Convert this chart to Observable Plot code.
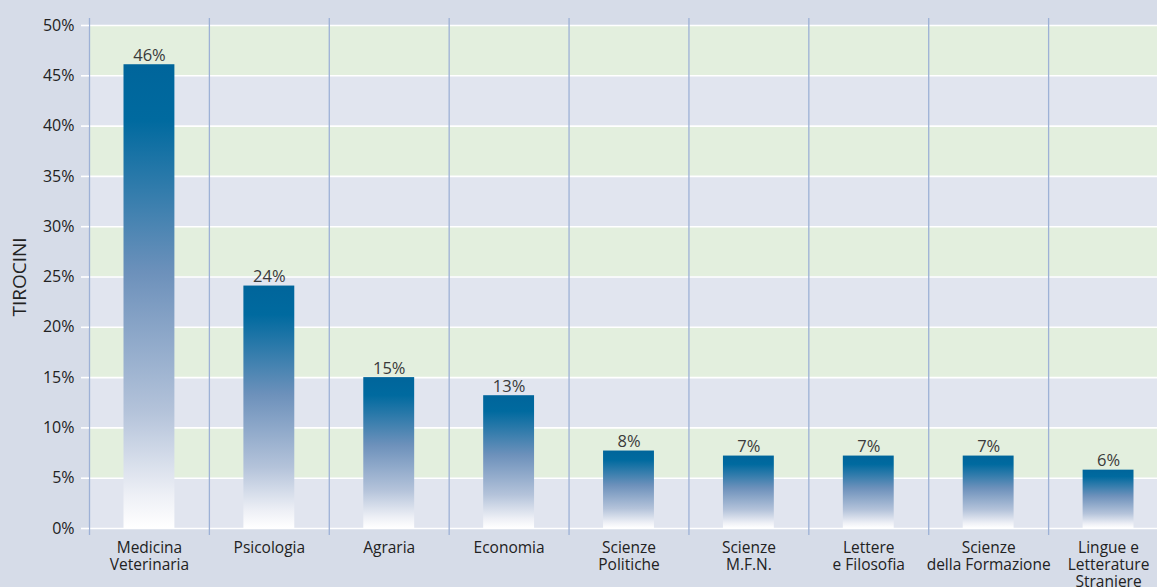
<!DOCTYPE html>
<html>
<head>
<meta charset="utf-8">
<script src="https://cdn.jsdelivr.net/npm/d3@7"></script>
<script src="https://cdn.jsdelivr.net/npm/@observablehq/plot@0.6"></script>
<style>
  html, body { margin: 0; padding: 0; background: #d6dce8; }
  #chart svg { display: block; }
</style>
</head>
<body>
<div id="chart"></div>
<script>
const categories = [
  "Medicina\nVeterinaria", "Psicologia", "Agraria", "Economia",
  "Scienze\nPolitiche", "Scienze\nM.F.N.", "Lettere\ne Filosofia",
  "Scienze\ndella Formazione", "Lingue e\nLetterature\nStraniere"
];
const values = [46.1, 24.1, 15.0, 13.2, 7.7, 7.2, 7.2, 7.2, 5.8];
const valueLabels = ["46%", "24%", "15%", "13%", "8%", "7%", "7%", "7%", "6%"];
const yTicks = [0, 5, 10, 15, 20, 25, 30, 35, 40, 45, 50];

const data = categories.map((c, i) => ({cat: c, value: values[i], label: valueLabels[i]}));
const bands = yTicks.slice(0, -1).map((t, i) => ({y1: t, y2: yTicks[i + 1], even: i % 2 === 1}));

const W = 1157, H = 587;
const xRange = [89, 1168];
const step = (xRange[1] - xRange[0]) / categories.length;
const font = "'Open Sans', 'Noto Sans', sans-serif";

const chart = Plot.plot({
  width: W,
  height: H,
  marginLeft: 89,
  marginRight: 0,
  marginTop: 25,
  marginBottom: 59,
  style: {background: "#d6dce8", fontFamily: font, color: "#222"},
  x: {domain: categories, range: xRange, padding: 0, round: false},
  y: {domain: [0, 50], ticks: yTicks},
  marks: [
    Plot.rect(bands, {y1: "y1", y2: "y2", fill: d => d.even ? "#e3efde" : "#e1e5ef"}),
    Plot.ruleY(yTicks, {stroke: "#ffffff", strokeWidth: 1.6}),
    Plot.ruleX(categories, {x: d => d, dx: -step / 2, y1: -0.7, y2: 50.7, stroke: "#9db1d6", strokeWidth: 1.3}),
    Plot.barY(data, {x: "cat", y: "value", fill: "url(#barGrad)", insetLeft: 34.5, insetRight: 34.5}),
    Plot.text(data, {x: "cat", y: "value", text: "label", lineAnchor: "bottom", dy: -4, fontSize: 16.5, fill: "#3a3a3a", fontFamily: font}),
    Plot.axisY({ticks: yTicks, tickFormat: d => d + "%", tickSize: 8, tickPadding: 7, stroke: "#ffffff", strokeWidth: 1.6, fontSize: 16, fill: "#222", label: null}),
    Plot.axisX({tickSize: 0, tickPadding: 13, fontSize: 15.5, lineHeight: 1.08, fill: "#222", label: null}),
    Plot.text(["TIROCINI"], {frameAnchor: "left", textAnchor: "middle", rotate: -90, dx: -70, fontSize: 19, fill: "#222", fontFamily: font})
  ]
});

const svg = d3.select(chart);
const defs = svg.insert("defs", ":first-child");
const grad = defs.append("linearGradient")
  .attr("id", "barGrad").attr("x1", 0).attr("y1", 0).attr("x2", 0).attr("y2", 1);
[[0, "#00659b"], [0.12, "#006a9f"], [0.45, "#6d91bb"], [0.75, "#b4c3da"], [0.93, "#eef0f6"], [1, "#ffffff"]]
  .forEach(([o, c]) => grad.append("stop").attr("offset", o).attr("stop-color", c));

document.getElementById("chart").appendChild(chart);
</script>
</body>
</html>
